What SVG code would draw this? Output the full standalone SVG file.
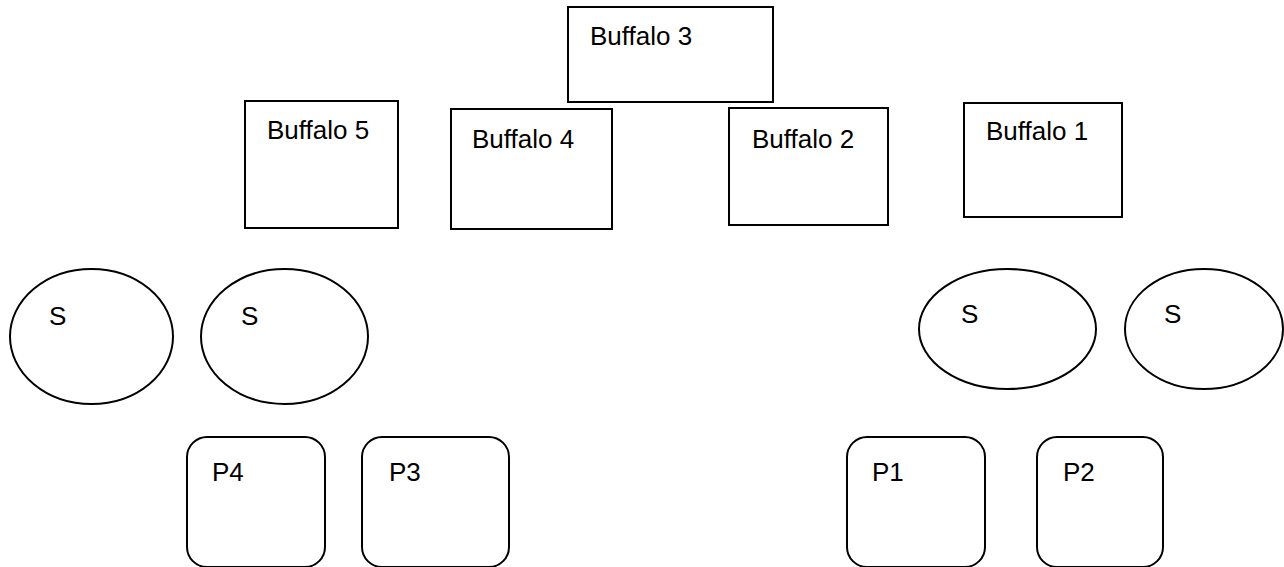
<svg xmlns="http://www.w3.org/2000/svg" width="1284" height="567" viewBox="0 0 1284 567">
<style>
.s{fill:#fff;stroke:#000;stroke-width:2}
.t{font-family:"Liberation Sans",Arial,sans-serif;font-size:26px;fill:#000}
</style>
<rect width="1284" height="567" fill="#fff"/>
<g id="buffalo3"><rect class="s" x="568" y="7" width="205" height="95"/><text class="t" x="590" y="45">Buffalo 3</text></g>
<g id="buffalo5"><rect class="s" x="245" y="101" width="153" height="127"/><text class="t" x="267" y="139">Buffalo 5</text></g>
<g id="buffalo4"><rect class="s" x="451" y="109" width="161" height="120"/><text class="t" x="472" y="148">Buffalo 4</text></g>
<g id="buffalo2"><rect class="s" x="729" y="108" width="159" height="117"/><text class="t" x="752" y="148">Buffalo 2</text></g>
<g id="buffalo1"><rect class="s" x="964" y="103" width="158" height="114"/><text class="t" x="986" y="140">Buffalo 1</text></g>
<g id="s1"><ellipse class="s" cx="91.5" cy="336.5" rx="81.5" ry="67.5"/><text class="t" x="49" y="325">S</text></g>
<g id="s2"><ellipse class="s" cx="284.5" cy="336.5" rx="83.5" ry="67.5"/><text class="t" x="241" y="325">S</text></g>
<g id="s3"><ellipse class="s" cx="1007.5" cy="329" rx="88.5" ry="60"/><text class="t" x="961" y="323">S</text></g>
<g id="s4"><ellipse class="s" cx="1204" cy="329" rx="79" ry="60"/><text class="t" x="1164" y="323">S</text></g>
<g id="p4"><rect class="s" x="187" y="437" width="138" height="130" rx="20"/><text class="t" x="212" y="481">P4</text></g>
<g id="p3"><rect class="s" x="362" y="437" width="147" height="130" rx="20"/><text class="t" x="389" y="481">P3</text></g>
<g id="p1"><rect class="s" x="847" y="437" width="138" height="130" rx="20"/><text class="t" x="872" y="481">P1</text></g>
<g id="p2"><rect class="s" x="1037" y="437" width="126" height="130" rx="20"/><text class="t" x="1063" y="481">P2</text></g>
<g id="connectors"></g>
</svg>
